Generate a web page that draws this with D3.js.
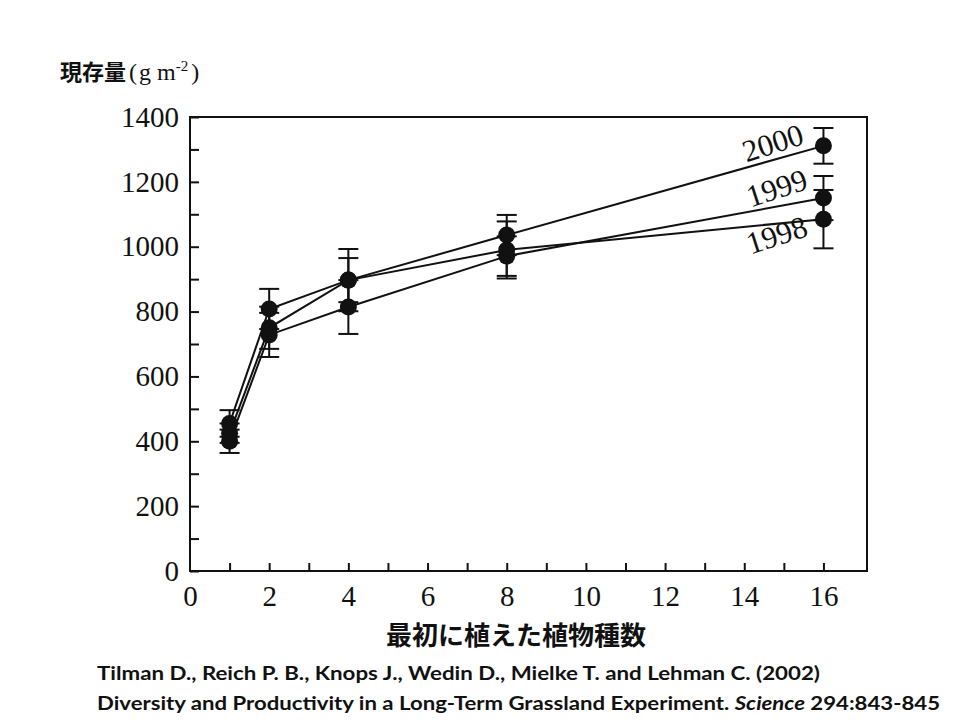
<!DOCTYPE html>
<html><head><meta charset="utf-8">
<script src="https://cdn.jsdelivr.net/npm/d3@7"></script>
<style>body{margin:0;background:#fff;} svg{display:block;}</style>
</head><body>
<svg id="c" width="960" height="720"></svg>
<script>
const species = [1, 2, 4, 8, 16];
const series = ["1998", "1999", "2000"];
const values1998 = [425, 750, 897, 990, 1085];
const values1999 = [400, 728, 814, 971, 1150];
const values2000 = [455, 808, 897, 1036, 1311];
const err1998 = [30, 65, 68, 88, 90];
const err1999 = [36, 68, 83, 61, 68];
const err2000 = [41, 62, 96, 62, 55];
const xTickLabels = [0, 2, 4, 6, 8, 10, 12, 14, 16];
const yTickLabels = [0, 200, 400, 600, 800, 1000, 1200, 1400];
const yTitle = "現存量";
const xTitle = "最初に植えた植物種数";
const citation1 = "Tilman D., Reich P. B., Knops J., Wedin D., Mielke T. and Lehman C. (2002)";
const citation2a = "Diversity and Productivity in a Long-Term Grassland Experiment. ";
const citation2b = "Science";
const citation2c = " 294:843-845";

const svg = d3.select("#c");
const L = 190, R = 867, T = 117, B = 571;
const x = d3.scaleLinear().domain([0, 17.1]).range([L, R]);
const y = d3.scaleLinear().domain([0, 1400]).range([B, T]);
const serif = "'Liberation Serif', 'DejaVu Serif', serif";

// frame
svg.append("rect").attr("x", L).attr("y", T).attr("width", R - L).attr("height", B - T)
  .attr("fill", "none").attr("stroke", "#111").attr("stroke-width", 2);

// y axis
const yAxis = d3.axisLeft(y).tickValues(d3.range(0, 1401, 100))
  .tickSize(-9).tickPadding(11)
  .tickFormat(d => yTickLabels.includes(d) ? d : "");
const gy = svg.append("g").attr("transform", `translate(${L},0)`).call(yAxis);
gy.select(".domain").remove();
gy.selectAll("line").attr("stroke", "#111").attr("stroke-width", 2);
gy.selectAll("text").attr("font-family", serif).attr("font-size", 29).attr("fill", "#111");

// x axis
const xAxis = d3.axisBottom(x).tickValues(d3.range(0, 17, 1))
  .tickSize(-8).tickPadding(14)
  .tickFormat(d => xTickLabels.includes(d) ? d : "");
const gx = svg.append("g").attr("transform", `translate(0,${B})`).call(xAxis);
gx.select(".domain").remove();
gx.selectAll("line").attr("stroke", "#111").attr("stroke-width", 2);
gx.selectAll("text").attr("font-family", serif).attr("font-size", 29).attr("fill", "#111");
gx.selectAll(".tick").filter(d => d === 0).select("line").remove();

const data = [
  {name: "1998", v: values1998, e: err1998},
  {name: "1999", v: values1999, e: err1999},
  {name: "2000", v: values2000, e: err2000}
];

const line = d3.line().x(d => x(d[0])).y(d => y(d[1]));
const plot = svg.append("g");
data.forEach(s => {
  const pts = species.map((sp, i) => [sp, s.v[i], s.e[i]]);
  const eb = plot.append("g");
  pts.forEach(p => {
    const cx = x(p[0]), y1 = y(p[1] + p[2]), y2 = y(p[1] - p[2]);
    eb.append("line").attr("x1", cx).attr("x2", cx).attr("y1", y1).attr("y2", y2)
      .attr("stroke", "#111").attr("stroke-width", 2);
    [y1, y2].forEach(yy => eb.append("line").attr("x1", cx - 10).attr("x2", cx + 10)
      .attr("y1", yy).attr("y2", yy).attr("stroke", "#111").attr("stroke-width", 2));
  });
  plot.append("path").datum(pts).attr("d", line).attr("fill", "none")
    .attr("stroke", "#111").attr("stroke-width", 2);
});
data.forEach(s => {
  species.forEach((sp, i) => {
    plot.append("circle").attr("cx", x(sp)).attr("cy", y(s.v[i])).attr("r", 8.5).attr("fill", "#111");
  });
});

// year labels
const lg = svg.append("g");
[["2000", 776, 153], ["1999", 780, 198], ["1998", 780, 245]].forEach(([t, lx, ly]) => {
  lg.append("text").attr("transform", `translate(${lx},${ly}) rotate(-18)`)
    .attr("text-anchor", "middle").attr("font-family", serif).attr("font-size", 31)
    .attr("fill", "#111").text(t);
});

// y title
const yt = svg.append("text").attr("x", 60).attr("y", 80).attr("fill", "#111");
yt.append("tspan").attr("font-family", "'Noto Sans CJK JP', sans-serif").attr("font-weight", "bold")
  .attr("font-size", 22).text(yTitle);
yt.append("tspan").attr("font-family", serif).attr("font-size", 24).attr("dx", 3).text("(");
yt.append("tspan").attr("font-family", serif).attr("font-size", 24).attr("dx", 2).text("g m");
yt.append("tspan").attr("font-family", serif).attr("font-size", 15).attr("dy", -9).text("-2");
yt.append("tspan").attr("font-family", serif).attr("font-size", 24).attr("dy", 9).attr("dx", 3).text(")");

// x title
svg.append("text").attr("x", 516).attr("y", 645).attr("text-anchor", "middle")
  .attr("font-family", "'Noto Sans CJK JP', sans-serif").attr("font-weight", "bold")
  .attr("font-size", 26).attr("fill", "#111").text(xTitle);

// citation
svg.append("text").attr("x", 97).attr("y", 680).attr("font-family", "Lato, 'Open Sans', sans-serif")
  .attr("font-weight", "bold").attr("font-size", 19).attr("fill", "#111")
  .attr("textLength", 723).attr("lengthAdjust", "spacingAndGlyphs").text(citation1);
const c2 = svg.append("text").attr("x", 97).attr("y", 710).attr("font-family", "Lato, 'Open Sans', sans-serif")
  .attr("font-weight", "bold").attr("font-size", 19).attr("fill", "#111")
  .attr("textLength", 843).attr("lengthAdjust", "spacingAndGlyphs");
c2.append("tspan").text(citation2a);
c2.append("tspan").attr("font-style", "italic").text(citation2b);
c2.append("tspan").text(citation2c);
</script>
</body></html>
